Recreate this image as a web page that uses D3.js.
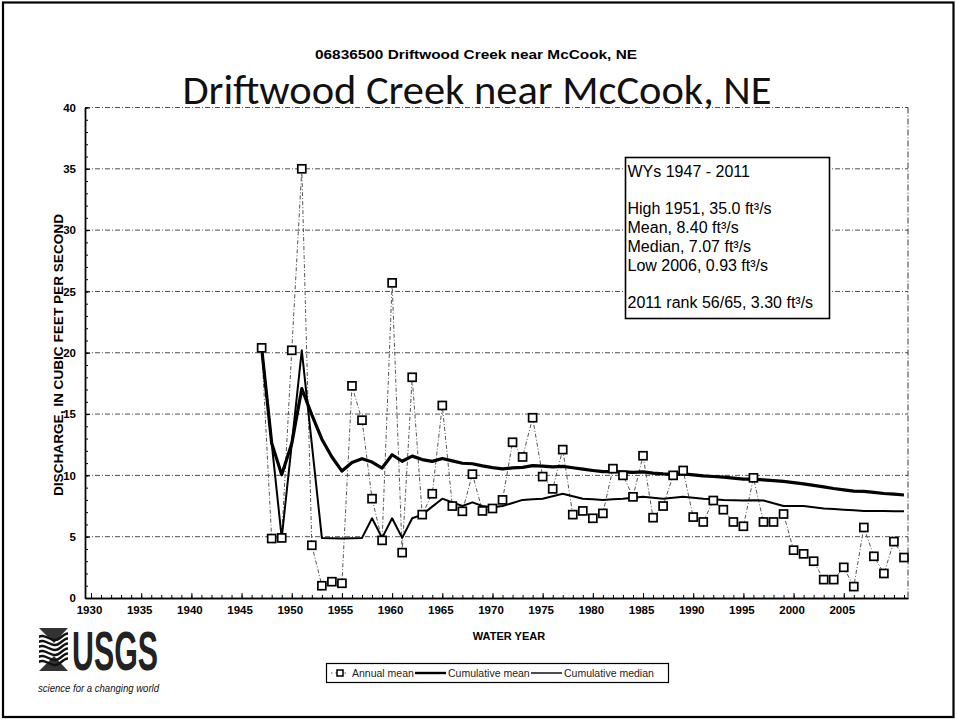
<!DOCTYPE html>
<html>
<head>
<meta charset="utf-8">
<script src="https://cdn.jsdelivr.net/npm/d3@7"></script>
<style>
  body { margin: 0; background: #fff; }
  svg { display: block; }
</style>
</head>
<body>
<svg id="chart" width="957" height="721"></svg>
<script>
// Driftwood Creek near McCook, NE (06836500) — annual mean discharge, WY 1947-2011
const waterYears = [
  1947, 1948, 1949, 1950, 1951, 1952, 1953, 1954, 1955, 1956,
  1957, 1958, 1959, 1960, 1961, 1962, 1963, 1964, 1965, 1966,
  1967, 1968, 1969, 1970, 1971, 1972, 1973, 1974, 1975, 1976,
  1977, 1978, 1979, 1980, 1981, 1982, 1983, 1984, 1985, 1986,
  1987, 1988, 1989, 1990, 1991, 1992, 1993, 1994, 1995, 1996,
  1997, 1998, 1999, 2000, 2001, 2002, 2003, 2004, 2005, 2006,
  2007, 2008, 2009, 2010, 2011
];
const annualMean = [
  20.4, 4.85, 4.9, 20.2, 35.0, 4.3, 1.0, 1.33, 1.2, 17.3,
  14.5, 8.1, 4.7, 25.7, 3.7, 18.0, 6.8, 8.5, 15.7, 7.5,
  7.07, 10.1, 7.1, 7.3, 8.0, 12.7, 11.5, 14.7, 9.9, 8.9,
  12.1, 6.8, 7.1, 6.5, 6.9, 10.55, 10.0, 8.25, 11.6, 6.55,
  7.5, 10.0, 10.4, 6.6, 6.2, 7.95, 7.2, 6.2, 5.85, 9.8,
  6.2, 6.2, 6.85, 3.9, 3.6, 3.0, 1.5, 1.5, 2.5, 0.93,
  5.75, 3.4, 2.0, 4.6, 3.3
];
const cumulativeMean = [
  20.40, 12.63, 10.05, 12.59, 17.07, 14.94, 12.95, 11.50, 10.35, 11.05,
  11.36, 11.09, 10.60, 11.68, 11.15, 11.57, 11.29, 11.14, 11.38, 11.18,
  10.99, 10.95, 10.78, 10.63, 10.53, 10.61, 10.65, 10.79, 10.76, 10.70,
  10.74, 10.62, 10.51, 10.40, 10.30, 10.30, 10.29, 10.24, 10.28, 10.18,
  10.12, 10.11, 10.12, 10.04, 9.96, 9.91, 9.85, 9.78, 9.70, 9.70,
  9.63, 9.57, 9.51, 9.41, 9.30, 9.19, 9.06, 8.93, 8.82, 8.72,
  8.70, 8.61, 8.52, 8.47, 8.40
];
const cumulativeMedian = [
  20.40, 12.63, 4.90, 12.55, 20.20, 12.55, 4.90, 4.88, 4.85, 4.88,
  4.90, 6.50, 4.90, 6.50, 4.90, 6.50, 6.80, 7.45, 8.10, 7.80,
  7.50, 7.80, 7.50, 7.40, 7.50, 7.75, 8.00, 8.05, 8.10, 8.30,
  8.50, 8.30, 8.10, 8.05, 8.00, 8.05, 8.10, 8.18, 8.25, 8.18,
  8.10, 8.18, 8.25, 8.18, 8.10, 8.05, 8.00, 7.98, 7.95, 7.98,
  7.95, 7.73, 7.50, 7.50, 7.50, 7.40, 7.30, 7.25, 7.20, 7.15,
  7.10, 7.10, 7.10, 7.08, 7.07
];
const xTickYears = [1930, 1935, 1940, 1945, 1950, 1955, 1960, 1965, 1970, 1975,
                    1980, 1985, 1990, 1995, 2000, 2005];
const yTickValues = [0, 5, 10, 15, 20, 25, 30, 35, 40];
const statsLines = [
  "WYs 1947 - 2011",
  "",
  "High 1951, 35.0 ft³/s",
  "Mean, 8.40 ft³/s",
  "Median, 7.07 ft³/s",
  "Low 2006, 0.93 ft³/s",
  "",
  "2011 rank 56/65, 3.30 ft³/s"
];
const legendLabels = ["Annual mean", "Cumulative mean", "Cumulative median"];

const annualRows = waterYears.map((yr, i) => ({ yr, v: annualMean[i] }));
const meanRows = waterYears.map((yr, i) => ({ yr, v: cumulativeMean[i] }));
const medianRows = waterYears.map((yr, i) => ({ yr, v: cumulativeMedian[i] }));

const svg = d3.select("#chart");
const plot = { left: 85, right: 908, top: 107.5, bottom: 598 };

const x = d3.scaleLinear().domain([1929.4, 2011.4]).range([plot.left, plot.right]);
const y = d3.scaleLinear().domain([0, 40]).range([plot.bottom, plot.top]);

const sans = "'Liberation Sans', Arial, sans-serif";
const narrow = "'Liberation Sans Narrow', 'Arial Narrow', 'Liberation Sans', Arial, sans-serif";

// page frame
svg.append("rect")
  .attr("x", 3).attr("y", 2.5).attr("width", 950.5).attr("height", 714.5)
  .attr("fill", "#fff").attr("stroke", "#000").attr("stroke-width", 2.2);

// headings
svg.append("text")
  .attr("x", 476).attr("y", 59)
  .attr("text-anchor", "middle")
  .attr("font-family", narrow).attr("font-weight", "bold").attr("font-size", 12.5)
  .attr("textLength", 322).attr("lengthAdjust", "spacingAndGlyphs")
  .text("06836500  Driftwood Creek near McCook, NE");

svg.append("text")
  .attr("x", 477).attr("y", 104)
  .attr("text-anchor", "middle")
  .attr("font-family", "Carlito, Calibri, Lato, 'Open Sans', sans-serif").attr("font-size", 40)
  .attr("textLength", 589).attr("lengthAdjust", "spacingAndGlyphs")
  .attr("fill", "#111")
  .text("Driftwood Creek near McCook, NE");

// horizontal gridlines and plot frame (top and right are dotted)
const gridDash = "5,2,1,2";
svg.append("g").selectAll("line")
  .data(yTickValues.filter(v => v > 0))
  .join("line")
  .attr("x1", plot.left).attr("x2", plot.right)
  .attr("y1", d => y(d)).attr("y2", d => y(d))
  .attr("stroke", "#222").attr("stroke-width", 0.8)
  .attr("stroke-dasharray", gridDash);
svg.append("line")
  .attr("x1", plot.right).attr("x2", plot.right)
  .attr("y1", plot.top).attr("y2", plot.bottom)
  .attr("stroke", "#222").attr("stroke-width", 0.9)
  .attr("stroke-dasharray", "6,2,1,2");

// axes: minor ticks every unit / every year, major labels
const yMinor = d3.axisLeft(y).tickValues(d3.range(0, 41, 1)).tickSize(-3).tickSizeOuter(0);
const yMajor = d3.axisLeft(y).tickValues(yTickValues).tickSize(-5).tickSizeOuter(0).tickPadding(9)
  .tickFormat(d3.format("d"));
const xMinor = d3.axisBottom(x).tickValues(d3.range(1930, 2012, 1)).tickSize(-3).tickSizeOuter(0);
const xMajor = d3.axisBottom(x).tickValues(xTickYears).tickSize(-5).tickSizeOuter(0).tickPadding(8)
  .tickFormat(d3.format("d"));

function styleAxis(g) {
  g.select(".domain").attr("stroke", "#000").attr("stroke-width", 1.4);
  g.selectAll(".tick line").attr("stroke", "#000").attr("stroke-width", 1);
  g.selectAll(".tick text")
    .attr("font-family", narrow).attr("font-weight", "bold")
    .attr("font-size", 11.5).attr("fill", "#000");
}
function tickMarksOnly(g) {
  g.selectAll(".tick text").remove();
}
svg.append("g").attr("transform", `translate(${plot.left},0)`).call(yMinor).call(styleAxis).call(tickMarksOnly);
svg.append("g").attr("transform", `translate(${plot.left},0)`).call(yMajor).call(styleAxis);
svg.append("g").attr("transform", `translate(0,${plot.bottom})`).call(xMinor).call(styleAxis).call(tickMarksOnly);
svg.append("g").attr("transform", `translate(0,${plot.bottom})`).call(xMajor).call(styleAxis)
  .selectAll(".tick text").attr("dx", -2);

// axis titles
svg.append("text")
  .attr("transform", `translate(63,355) rotate(-90)`)
  .attr("text-anchor", "middle")
  .attr("font-family", sans).attr("font-weight", "bold").attr("font-size", 13)
  .attr("textLength", 282).attr("lengthAdjust", "spacingAndGlyphs")
  .text("DISCHARGE, IN CUBIC FEET PER SECOND");
svg.append("text")
  .attr("x", 509).attr("y", 640)
  .attr("text-anchor", "middle")
  .attr("font-family", sans).attr("font-weight", "bold").attr("font-size", 11)
  .text("WATER YEAR");

// series
const line = d3.line().x(d => x(d.yr)).y(d => y(d.v));
svg.append("path").datum(annualRows)
  .attr("d", line).attr("fill", "none")
  .attr("stroke", "#555").attr("stroke-width", 1)
  .attr("stroke-dasharray", "4,2,1,2");
svg.append("path").datum(medianRows)
  .attr("d", line).attr("fill", "none")
  .attr("stroke", "#000").attr("stroke-width", 2)
  .attr("stroke-linejoin", "round");
svg.append("path").datum(meanRows)
  .attr("d", line).attr("fill", "none")
  .attr("stroke", "#000").attr("stroke-width", 3.2)
  .attr("stroke-linejoin", "round");

const sq = 8;
svg.append("g").selectAll("rect")
  .data(annualRows)
  .join("rect")
  .attr("x", d => x(d.yr) - sq / 2).attr("y", d => y(d.v) - sq / 2)
  .attr("width", sq).attr("height", sq)
  .attr("fill", "#fff").attr("stroke", "#000").attr("stroke-width", 1.7);

// statistics box
const box = { x: 625.5, y: 157.5, w: 204, h: 161 };
svg.append("rect")
  .attr("x", box.x).attr("y", box.y).attr("width", box.w).attr("height", box.h)
  .attr("fill", "#fff").attr("stroke", "#000").attr("stroke-width", 1.6);
svg.append("g").selectAll("text")
  .data(statsLines)
  .join("text")
  .attr("x", box.x + 2).attr("y", (d, i) => 177 + i * 18.7)
  .attr("font-family", sans).attr("font-size", 16).attr("fill", "#000")
  .text(d => d);

// legend
const lg = svg.append("g").attr("font-family", sans).attr("font-size", 10.5).attr("fill", "#222");
lg.append("rect")
  .attr("x", 326.5).attr("y", 663.5).attr("width", 342).attr("height", 19)
  .attr("fill", "#fff").attr("stroke", "#000").attr("stroke-width", 1.2);
const ly = 673;
lg.append("line").attr("x1", 331).attr("x2", 349).attr("y1", ly).attr("y2", ly)
  .attr("stroke", "#555").attr("stroke-width", 1).attr("stroke-dasharray", "1.5,3");
lg.append("rect").attr("x", 337).attr("y", ly - 3).attr("width", 6).attr("height", 6)
  .attr("fill", "#fff").attr("stroke", "#000").attr("stroke-width", 1.5);
lg.append("text").attr("x", 352).attr("y", ly + 3.8).text(legendLabels[0]);
lg.append("line").attr("x1", 415).attr("x2", 446).attr("y1", ly).attr("y2", ly)
  .attr("stroke", "#000").attr("stroke-width", 2.4);
lg.append("text").attr("x", 448).attr("y", ly + 3.8).text(legendLabels[1]);
lg.append("line").attr("x1", 531).attr("x2", 562).attr("y1", ly).attr("y2", ly)
  .attr("stroke", "#000").attr("stroke-width", 1.4);
lg.append("text").attr("x", 564).attr("y", ly + 3.8).text(legendLabels[2]);

// USGS identifier
const logo = svg.append("g");
const clip = svg.append("defs").append("clipPath").attr("id", "iconClip");
clip.append("rect").attr("x", 39).attr("y", 628).attr("width", 29).attr("height", 43);
const icon = logo.append("g").attr("clip-path", "url(#iconClip)");
icon.append("rect").attr("x", 39).attr("y", 628).attr("width", 29).attr("height", 43).attr("fill", "#fff");
icon.append("path")
  .attr("d", "M39,628 L68,628 L54,643 Z M39,671 L68,671 L54,656 Z")
  .attr("fill", "#333");
[0, 1, 2, 3, 4, 5].forEach(k => {
  const yy = 638 + k * 5;
  icon.append("path")
    .attr("d", `M37,${yy} C45,${yy - 7} 52,${yy + 7} 60,${yy} S70,${yy - 5} 72,${yy}`)
    .attr("fill", "none").attr("stroke", "#111").attr("stroke-width", 2.4);
});
logo.append("text")
  .attr("x", 72).attr("y", 670)
  .attr("font-family", narrow).attr("font-weight", "bold").attr("font-size", 55)
  .attr("textLength", 86).attr("lengthAdjust", "spacingAndGlyphs")
  .attr("fill", "#222")
  .text("USGS");
logo.append("text")
  .attr("x", 38).attr("y", 692)
  .attr("font-family", narrow).attr("font-style", "italic").attr("font-size", 10.5)
  .attr("textLength", 121).attr("lengthAdjust", "spacingAndGlyphs")
  .attr("fill", "#111")
  .text("science for a changing world");
</script>
</body>
</html>
